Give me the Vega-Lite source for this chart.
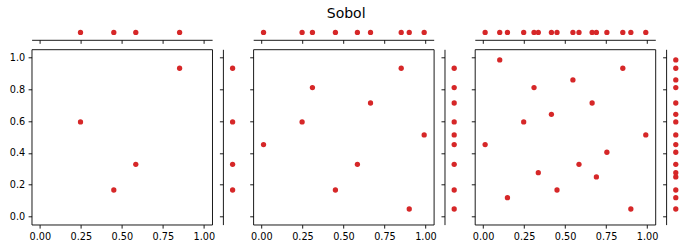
{
  "$schema": "https://vega.github.io/schema/vega-lite/v6.json",
  "padding": {"left": 8.6, "top": 6, "right": 2, "bottom": 2},
  "title": {"text": "Sobol", "anchor": "middle", "font": "DejaVu Sans", "fontSize": 14, "fontWeight": "normal", "color": "black", "dx": -1, "offset": 2},
  "datasets": {
    "s4": [
      {"x": 0.248, "y": 0.594}, {"x": 0.451, "y": 0.167}, {"x": 0.585, "y": 0.328}, {"x": 0.852, "y": 0.931}
    ],
    "s9": [
      {"x": 0.248, "y": 0.594}, {"x": 0.451, "y": 0.167}, {"x": 0.585, "y": 0.328}, {"x": 0.852, "y": 0.931},
      {"x": 0.013, "y": 0.452}, {"x": 0.311, "y": 0.810}, {"x": 0.665, "y": 0.713}, {"x": 0.901, "y": 0.048},
      {"x": 0.992, "y": 0.513}
    ],
    "s16": [
      {"x": 0.248, "y": 0.594}, {"x": 0.451, "y": 0.167}, {"x": 0.585, "y": 0.328}, {"x": 0.852, "y": 0.931},
      {"x": 0.013, "y": 0.452}, {"x": 0.311, "y": 0.810}, {"x": 0.665, "y": 0.713}, {"x": 0.901, "y": 0.048},
      {"x": 0.992, "y": 0.513}, {"x": 0.102, "y": 0.983}, {"x": 0.548, "y": 0.858}, {"x": 0.417, "y": 0.642},
      {"x": 0.755, "y": 0.404}, {"x": 0.337, "y": 0.276}, {"x": 0.691, "y": 0.249}, {"x": 0.149, "y": 0.119}
    ]
  },
  "columns": 6,
  "align": "each",
  "bounds": "flush",
  "spacing": {"row": 9.3, "column": 10.3},
  "concat": [
    {"data": {"name": "s4"}, "width": 180.5, "height": 14.8, "mark": {"type": "circle", "color": "#d62728", "opacity": 1, "size": 28},
     "encoding": {"x": {"field": "x", "type": "quantitative", "scale": {"domain": [-0.05, 1.05], "nice": false, "zero": false}, "axis": {"values": [0, 0.25, 0.5, 0.75, 1], "labels": false}}}},
    {"data": {"values": [{}]}, "width": 1, "height": 1, "mark": {"type": "point", "opacity": 0}, "encoding": {}},
    {"data": {"name": "s9"}, "width": 180.5, "height": 14.8, "mark": {"type": "circle", "color": "#d62728", "opacity": 1, "size": 28},
     "encoding": {"x": {"field": "x", "type": "quantitative", "scale": {"domain": [-0.05, 1.05], "nice": false, "zero": false}, "axis": {"values": [0, 0.25, 0.5, 0.75, 1], "labels": false}}}},
    {"data": {"values": [{}]}, "width": 1, "height": 1, "mark": {"type": "point", "opacity": 0}, "encoding": {}},
    {"data": {"name": "s16"}, "width": 180.5, "height": 14.8, "mark": {"type": "circle", "color": "#d62728", "opacity": 1, "size": 28},
     "encoding": {"x": {"field": "x", "type": "quantitative", "scale": {"domain": [-0.05, 1.05], "nice": false, "zero": false}, "axis": {"values": [0, 0.25, 0.5, 0.75, 1], "labels": false}}}},
    {"data": {"values": [{}]}, "width": 1, "height": 1, "mark": {"type": "point", "opacity": 0}, "encoding": {}},

    {"data": {"name": "s4"}, "width": 180.5, "height": 175.3, "view": {"stroke": "black", "strokeWidth": 0.9}, "mark": {"type": "circle", "color": "#d62728", "opacity": 1, "size": 28},
     "encoding": {
       "x": {"field": "x", "type": "quantitative", "scale": {"domain": [-0.05, 1.05], "nice": false, "zero": false}, "axis": {"values": [0, 0.25, 0.5, 0.75, 1], "format": ".2f", "domain": false}},
       "y": {"field": "y", "type": "quantitative", "scale": {"domain": [-0.05, 1.05], "nice": false, "zero": false}, "axis": {"values": [0, 0.2, 0.4, 0.6, 0.8, 1], "format": ".1f", "domain": false}}}},
    {"data": {"name": "s4"}, "width": 19.4, "height": 175.3, "mark": {"type": "circle", "color": "#d62728", "opacity": 1, "size": 28},
     "encoding": {"y": {"field": "y", "type": "quantitative", "scale": {"domain": [-0.05, 1.05], "nice": false, "zero": false}, "axis": {"values": [0, 0.2, 0.4, 0.6, 0.8, 1], "labels": false}}}},
    {"data": {"name": "s9"}, "width": 180.5, "height": 175.3, "view": {"stroke": "black", "strokeWidth": 0.9}, "mark": {"type": "circle", "color": "#d62728", "opacity": 1, "size": 28},
     "encoding": {
       "x": {"field": "x", "type": "quantitative", "scale": {"domain": [-0.05, 1.05], "nice": false, "zero": false}, "axis": {"values": [0, 0.25, 0.5, 0.75, 1], "format": ".2f", "domain": false}},
       "y": {"field": "y", "type": "quantitative", "scale": {"domain": [-0.05, 1.05], "nice": false, "zero": false}, "axis": {"values": [0, 0.2, 0.4, 0.6, 0.8, 1], "labels": false, "domain": false}}}},
    {"data": {"name": "s9"}, "width": 19.4, "height": 175.3, "mark": {"type": "circle", "color": "#d62728", "opacity": 1, "size": 28},
     "encoding": {"y": {"field": "y", "type": "quantitative", "scale": {"domain": [-0.05, 1.05], "nice": false, "zero": false}, "axis": {"values": [0, 0.2, 0.4, 0.6, 0.8, 1], "labels": false}}}},
    {"data": {"name": "s16"}, "width": 180.5, "height": 175.3, "view": {"stroke": "black", "strokeWidth": 0.9}, "mark": {"type": "circle", "color": "#d62728", "opacity": 1, "size": 28},
     "encoding": {
       "x": {"field": "x", "type": "quantitative", "scale": {"domain": [-0.05, 1.05], "nice": false, "zero": false}, "axis": {"values": [0, 0.25, 0.5, 0.75, 1], "format": ".2f", "domain": false}},
       "y": {"field": "y", "type": "quantitative", "scale": {"domain": [-0.05, 1.05], "nice": false, "zero": false}, "axis": {"values": [0, 0.2, 0.4, 0.6, 0.8, 1], "labels": false, "domain": false}}}},
    {"data": {"name": "s16"}, "width": 19.4, "height": 175.3, "mark": {"type": "circle", "color": "#d62728", "opacity": 1, "size": 28},
     "encoding": {"y": {"field": "y", "type": "quantitative", "scale": {"domain": [-0.05, 1.05], "nice": false, "zero": false}, "axis": {"values": [0, 0.2, 0.4, 0.6, 0.8, 1], "labels": false}}}}
  ],
  "config": {
    "view": {"stroke": null},
    "axis": {"grid": false, "title": null, "domainColor": "black", "domainWidth": 0.9, "tickColor": "black", "tickWidth": 0.9, "tickSize": 3.5, "labelColor": "black", "labelFont": "DejaVu Sans", "labelFontSize": 9.7, "labelPadding": 3.4}
  }
}
